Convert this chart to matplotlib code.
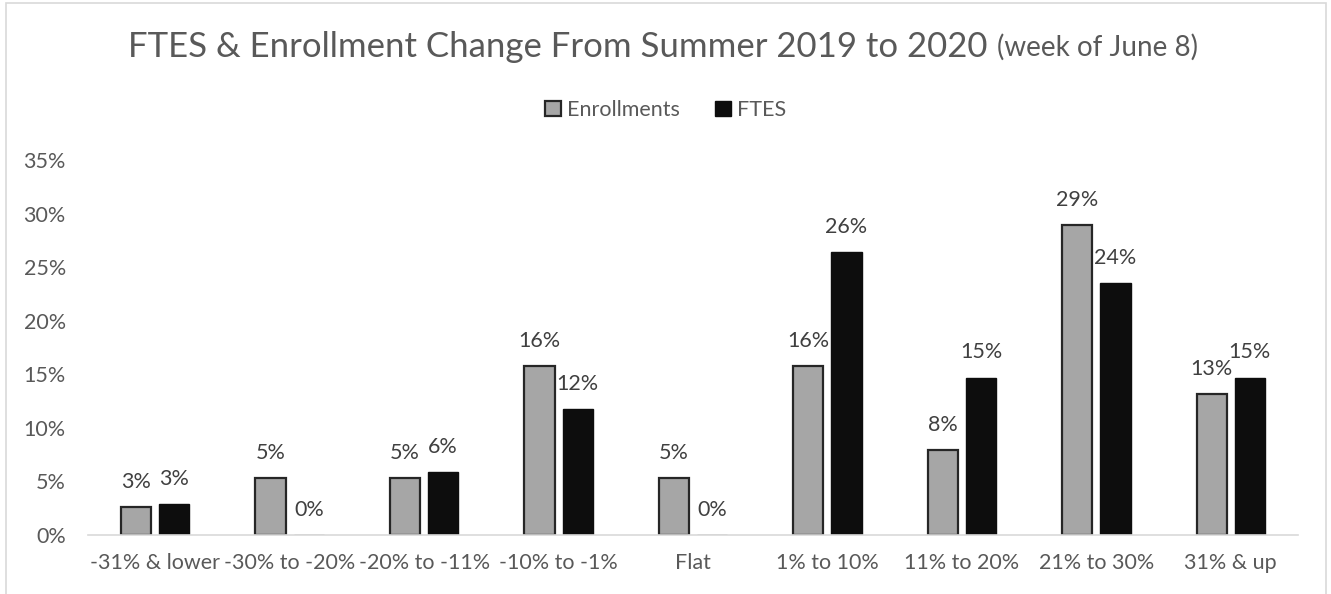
import matplotlib.pyplot as plt
import numpy as np
from matplotlib.patches import Rectangle

plt.rcParams["font.family"] = ["Lato", "DejaVu Sans"]

# =========================
# DADOS
# =========================

categorias = ["-31% & lower", "-30% to -20%", "-20% to -11%", "-10% to -1%", "Flat",
              "1% to 10%", "11% to 20%", "21% to 30%", "31% & up"]
enrollments = [2.6, 5.3, 5.3, 15.8, 5.3, 15.8, 7.9, 28.9, 13.2]
ftes = [2.9, 0.0, 5.9, 11.8, 0.0, 26.4, 14.7, 23.5, 14.7]
yticks = [0, 5, 10, 15, 20, 25, 30, 35]

COR_TXT = "#595959"
COR_CINZA = "#A6A6A6"
COR_PRETO = "#0D0D0D"

W, H = 1331, 594

fig = plt.figure(figsize=(W / 100, H / 100), dpi=100)
ax = fig.add_axes([88 / W, 1 - 535 / H, (1298 - 88) / W, (535 - 160) / H])

# moldura do gráfico
fig.patches.append(Rectangle((6 / W, -0.05), 1320 / W, 1.05 - 3 / H,
                             transform=fig.transFigure, fill=False,
                             edgecolor="#D9D9D9", linewidth=1.2))

x = np.arange(len(categorias))
w = 0.225
off = 0.142

b1 = ax.bar(x - off, enrollments, w, color=COR_CINZA, edgecolor="#262626", linewidth=1.6,
            label="Enrollments")
b2 = ax.bar(x + off, ftes, w, color=COR_PRETO, edgecolor=COR_PRETO, linewidth=1.0,
            label="FTES")

for barras, vals in [(b1, enrollments), (b2, ftes)]:
    for b, v in zip(barras, vals):
        ax.annotate(f"{v:.0f}%", (b.get_x() + b.get_width() / 2, v),
                    xytext=(0, 18), textcoords="offset points",
                    ha="center", va="center", fontsize=15.5, color="#404040")

ax.set_xlim(-0.5, len(categorias) - 0.5)
ax.set_ylim(0, 35)
ax.set_yticks(yticks)
ax.set_yticklabels([f"{t}%" for t in yticks])
ax.set_xticks(x)
ax.set_xticklabels(categorias)
ax.tick_params(axis="both", length=0, labelsize=15.5, colors=COR_TXT)
ax.tick_params(axis="x", pad=13)
ax.tick_params(axis="y", pad=16)

for s in ["top", "right", "left"]:
    ax.spines[s].set_visible(False)
ax.spines["bottom"].set_color("#D9D9D9")
ax.spines["bottom"].set_linewidth(1.2)

# título em duas partes (parêntese menor)
t1 = fig.text(0, 0, "FTES & Enrollment Change From Summer 2019 to 2020 ",
              fontsize=25, color=COR_TXT, va="center")
t2 = fig.text(0, 0, "(week of June 8)", fontsize=20, color=COR_TXT, va="center")
fig.canvas.draw()
r = fig.canvas.get_renderer()
w1 = t1.get_window_extent(r).width
w2 = t2.get_window_extent(r).width
x0 = (663 - (w1 + w2) / 2) / W
t1.set_position((x0, 1 - 47 / H))
t2.set_position((x0 + w1 / W, 1 - 47 / H))

leg = fig.legend(handles=[b1, b2], loc="center", bbox_to_anchor=(0.5, 1 - 110 / H),
                 ncol=2, frameon=False, fontsize=15.5, handlelength=0.75, handleheight=0.75,
                 handletextpad=0.3, columnspacing=1.6, labelcolor=COR_TXT)

plt.savefig("out.png", dpi=100)
